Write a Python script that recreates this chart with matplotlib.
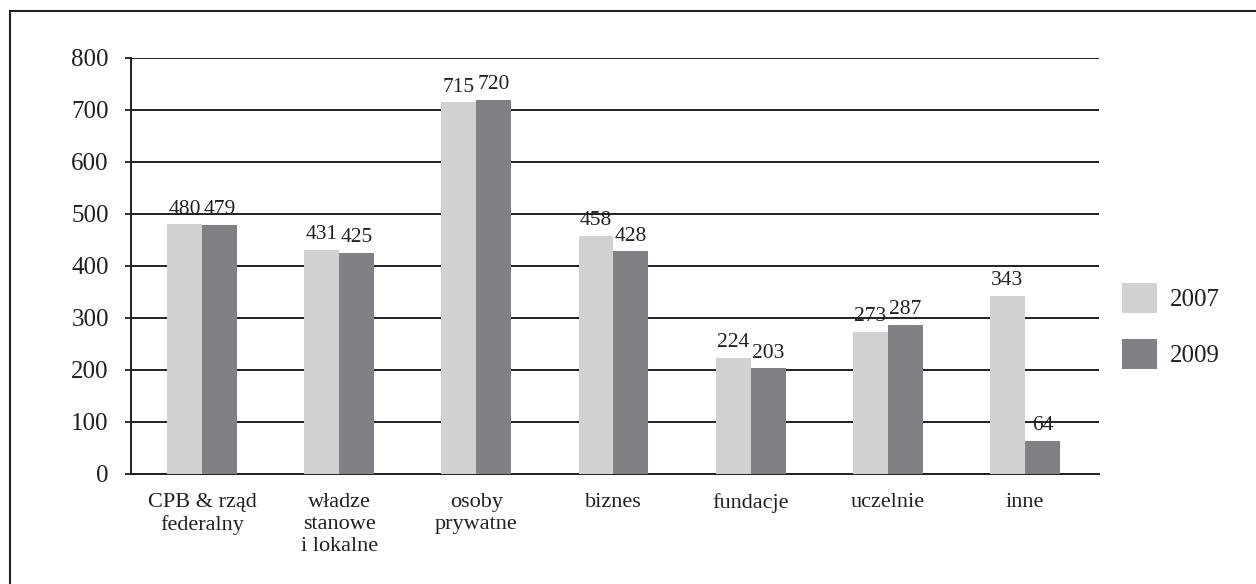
import matplotlib
matplotlib.use("Agg")
import matplotlib.pyplot as plt
from matplotlib.lines import Line2D
import numpy as np

categories = ["CPB & rząd\nfederalny", "władze\nstanowe\ni lokalne", "osoby\nprywatne",
              "biznes", "fundacje", "uczelnie", "inne"]
v2007 = [480, 431, 715, 458, 224, 273, 343]
v2009 = [479, 425, 720, 428, 203, 287, 64]
series_names = ["2007", "2009"]
yticks = [0, 100, 200, 300, 400, 500, 600, 700, 800]

plt.rcParams['font.family'] = ['Liberation Serif', 'DejaVu Serif']

W, H = 1256, 584
fig = plt.figure(figsize=(W/100, H/100), dpi=100)
ax = fig.add_axes([131/W, 1-474/H, (1099-131)/W, (474-58)/H])

x = np.arange(len(categories))
bw = 0.255
c1, c2 = "#d0d1d3", "#808184"
txt = "#231f20"
b1 = ax.bar(x - bw/2, v2007, bw, color=c1, label=series_names[0], zorder=3)
b2 = ax.bar(x + bw/2, v2009, bw, color=c2, label=series_names[1], zorder=3)
for bars in (b1, b2):
    ax.bar_label(bars, padding=4, fontsize=15.5, color=txt)

ax.set_xlim(-0.518, 6.54)
ax.set_ylim(0, 800)
ax.set_yticks(yticks)
ax.tick_params(axis='y', labelsize=18, length=4, width=1.3, pad=12, colors=txt)
ax.set_xticks(x)
ax.set_xticklabels(categories, fontsize=16, color=txt, linespacing=1.2)
ax.tick_params(axis='x', length=0, pad=14)
ax.yaxis.grid(True, color=txt, linewidth=1.4, zorder=0)
ax.set_axisbelow(True)
for s in ["top", "right"]:
    ax.spines[s].set_visible(False)
for s in ["left", "bottom"]:
    ax.spines[s].set_linewidth(1.4)
    ax.spines[s].set_color(txt)

leg = fig.legend(handles=[b1, b2], labels=series_names, loc="center left",
                 bbox_to_anchor=(1122/W, 1-326/H), frameon=False, fontsize=18,
                 borderpad=0, borderaxespad=0,
                 handlelength=1.4, handleheight=1.45, labelspacing=1.05, handletextpad=0.5)
for t in leg.get_texts():
    t.set_color(txt)

# figure frame (left and top edges)
fig.add_artist(Line2D([10/W, 10/W], [0, 1-11/H], color=txt, lw=1.5, transform=fig.transFigure))
fig.add_artist(Line2D([10/W, 1], [1-11/H, 1-11/H], color=txt, lw=1.5, transform=fig.transFigure))

fig.savefig("out.png", dpi=100)
